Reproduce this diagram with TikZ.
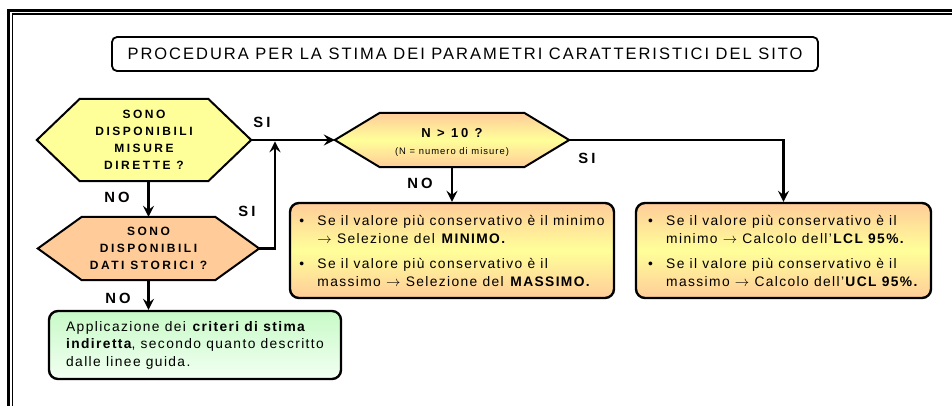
\documentclass[tikz,border=0pt]{standalone}
\usepackage{fontspec}
\setmainfont{Liberation Sans}
\newfontfamily\titlefnt[LetterSpace=12]{Liberation Sans}
\newfontfamily\hexfnt[LetterSpace=21]{Liberation Sans}
\newfontfamily\bodyfnt[LetterSpace=10]{Liberation Sans}
\newfontfamily\smallfnt[LetterSpace=11]{Liberation Sans}
\usetikzlibrary{arrows.meta,calc,backgrounds}
\definecolor{hexyellow}{HTML}{FFFF99}
\definecolor{peach}{HTML}{FFCC99}
\definecolor{lgreen}{HTML}{C8FAC8}
\definecolor{pgreen}{HTML}{F2FFF2}
\newcommand\hexoutline[3]{%
  \path[#3] (#1.west) -- ($(#1.north west)+(#2,0)$) -- ($(#1.north east)-(#2,0)$) -- (#1.east)
    -- ($(#1.south east)-(#2,0)$) -- ($(#1.south west)+(#2,0)$) -- cycle;}
\begin{document}
\begin{tikzpicture}[x=1pt,y=-1pt,
  conn/.style={line width=2.6pt,-{Stealth[length=11pt,width=11pt,inset=4pt]}},
  hexnode/.style={inner sep=0pt,align=center,font=\hexfnt\bfseries\fontsize{12}{17}\selectfont},
  hexline/.style={draw=black,line width=2pt,line join=miter},
  orangeshade/.style={top color=peach,bottom color=peach,middle color=hexyellow},
  lbl/.style={font=\hexfnt\bfseries\fontsize{14.8}{15}\selectfont,inner sep=0pt},
  titlebox/.style={draw,line width=1.8pt,rounded corners=5pt,minimum width=706pt,minimum height=34pt,
    font=\titlefnt\fontsize{16.5}{18}\selectfont,inner sep=0pt},
  infobox/.style={draw,line width=2.4pt,rounded corners=9pt,align=left,inner sep=0pt,
    font=\bodyfnt\fontsize{13.8}{18}\selectfont,orangeshade},
  greenbox/.style={draw,line width=2.4pt,rounded corners=9pt,align=left,inner sep=0pt,
    font=\bodyfnt\fontsize{13.8}{17.5}\selectfont,top color=lgreen,bottom color=pgreen}
  ]
\useasboundingbox (0,0) rectangle (952,405);
\clip (0,0) rectangle (952,405);
% frame
\draw[line width=3pt] (8.5,420) -- (8.5,10.5) -- (970,10.5);
\draw[line width=1.2pt] (12.2,420) -- (12.2,14) -- (970,14);
% title
\node[titlebox] (title) at (465,54) {PROCEDURA PER LA STIMA DEI PARAMETRI CARATTERISTICI DEL SITO};
% hexagons
\node[hexnode,minimum width=214pt,minimum height=82pt] (h1) at (144,140) {SONO\\DISPONIBILI\\MISURE\\DIRETTE ?};
\node[hexnode,minimum width=221pt,minimum height=63pt] (h2) at (148.5,248.5) {SONO\\DISPONIBILI\\DATI STORICI ?};
\node[hexnode,minimum width=234pt,minimum height=54pt] (h3) at (452,140)
  {{\fontsize{13}{14.5}\selectfont\rule{0pt}{14.5pt}N > 10 ?}\\{\smallfnt\mdseries\fontsize{9.4}{10}\selectfont (N = numero di misure)}};
\begin{scope}[on background layer]
  \hexoutline{h1}{43}{hexline,fill=hexyellow}
  \hexoutline{h2}{44}{hexline,fill=peach}
  \hexoutline{h3}{45}{hexline,orangeshade}
\end{scope}
% boxes
\node[infobox,minimum width=324pt,minimum height=95pt] (b2) at (452,250.5)
  {\makebox[18pt][l]{\textbullet}Se il valore più conservativo è il minimo\\
   \hspace*{18pt}$\rightarrow$ Selezione del \textbf{MINIMO.}\\[7pt]
   \makebox[18pt][l]{\textbullet}Se il valore più conservativo è il\\
   \hspace*{18pt}massimo $\rightarrow$ Selezione del \textbf{MASSIMO.}};
\node[infobox,minimum width=295pt,minimum height=95pt] (b3) at (783.5,250.5)
  {\makebox[18pt][l]{\textbullet}Se il valore più conservativo è il\\
   \hspace*{18pt}minimo $\rightarrow$ Calcolo dell’\textbf{LCL 95\%.}\\[7pt]
   \makebox[18pt][l]{\textbullet}Se il valore più conservativo è il\\
   \hspace*{18pt}massimo $\rightarrow$ Calcolo dell’\textbf{UCL 95\%.}};
\node[greenbox,minimum width=292pt,minimum height=68pt] (g) at (195,345)
  {Applicazione dei \textbf{criteri di stima}\\
   \textbf{indiretta}, secondo quanto descritto\\
   dalle linee guida.};
% connectors
\coordinate (j) at (275,140);
\draw[conn] (h1.east) -- (h3.west);
\draw[conn,shorten >=1.3pt] (h2.east) -| (j);
\draw[conn] (h2.north |- h1.south) -- (h2.north);
\draw[conn] (h2.south) -- (h2.south |- g.north);
\draw[conn] (h3.south) -- (b2.north);
\draw[conn] (h3.east) -| (b3.north);
% labels
\node[lbl] (l1) at (262,122) {SI};
\node[lbl] (l2) at (247,211) {SI};
\node[lbl] (l3) at (117,197) {NO};
\node[lbl] (l4) at (118,298) {NO};
\node[lbl] (l5) at (420,183) {NO};
\node[lbl] (l6) at (587,158) {SI};
\end{tikzpicture}
\end{document}
